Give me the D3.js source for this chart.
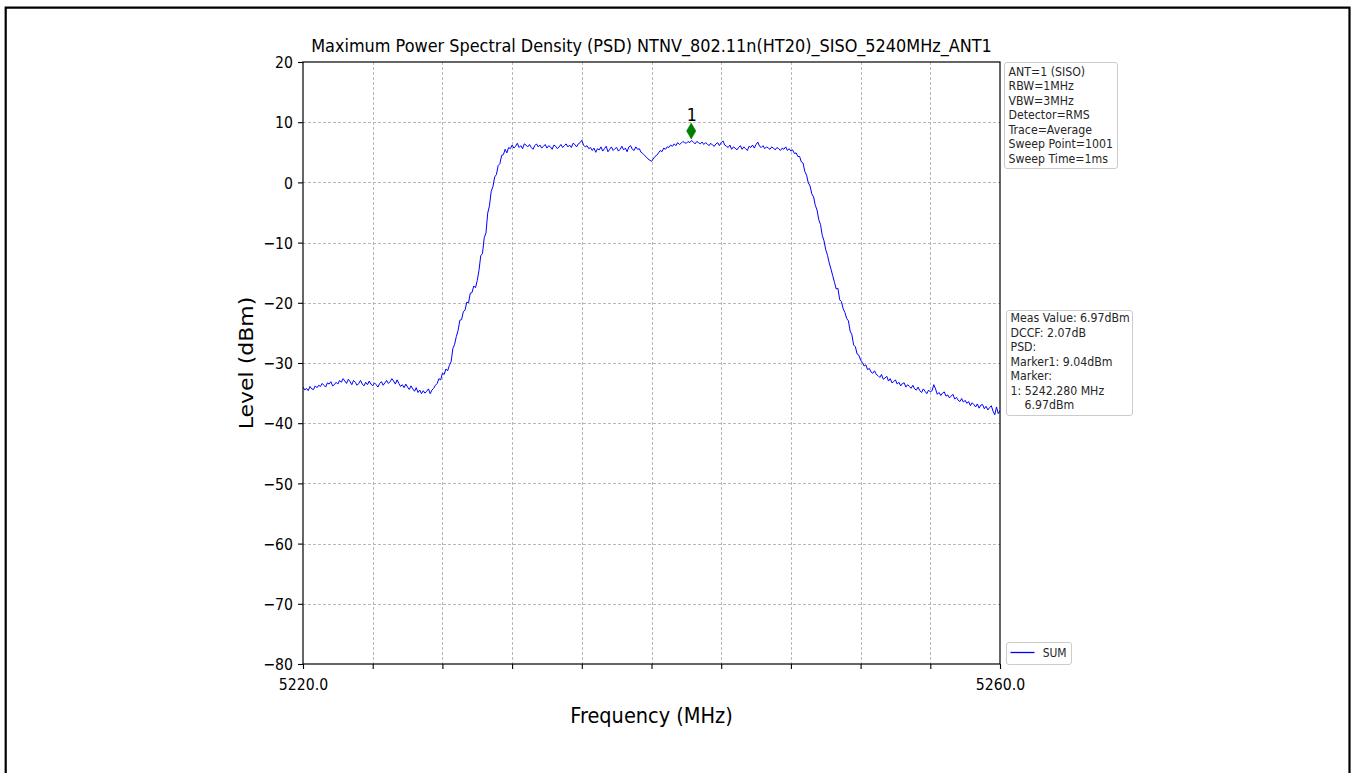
<!DOCTYPE html>
<html>
<head>
<meta charset="utf-8">
<script src="https://cdn.jsdelivr.net/npm/d3@7"></script>
<style>
  html, body { margin: 0; padding: 0; background: #fff; }
  svg { display: block; font-family: "DejaVu Sans", sans-serif; }
  text { white-space: pre; }
</style>
</head>
<body>
<svg id="chart" width="1352" height="773"></svg>
<script>
// Sweep settings (MHz) and measured trace level (dBm), one value per 0.1 MHz
const sweepStart = 5220;
const sweepStop = 5260;
const levelDbm = [
  -34.0,-34.5,-34.2,-34.6,-33.9,-34.3,-34.4,-33.8,-34.1,-33.7,
  -33.9,-33.4,-33.7,-34.0,-33.3,-33.5,-33.1,-33.8,-33.6,-33.2,
  -33.5,-32.9,-33.2,-32.6,-33.0,-33.4,-32.7,-33.1,-33.6,-32.9,
  -33.2,-33.7,-33.4,-32.9,-33.5,-33.8,-33.2,-33.6,-33.0,-33.5,
  -33.8,-33.3,-33.6,-34.0,-33.4,-33.1,-33.7,-33.3,-32.9,-33.4,
  -33.1,-32.6,-33.0,-33.5,-32.8,-33.4,-33.9,-33.6,-34.1,-33.5,
  -34.0,-34.4,-33.8,-34.3,-34.7,-34.1,-34.9,-34.5,-35.1,-34.6,
  -35.0,-34.7,-34.3,-35.1,-34.5,-34.2,-33.7,-33.4,-32.6,-32.8,
  -31.7,-31.9,-31.0,-31.3,-30.4,-29.8,-27.6,-26.9,-25.6,-24.6,
  -22.9,-22.8,-21.5,-21.2,-19.9,-20.0,-18.4,-18.3,-17.2,-17.5,
  -16.3,-14.6,-12.2,-11.8,-9.2,-8.4,-5.1,-3.9,-1.5,-0.7,
  0.9,1.3,2.8,3.1,4.5,4.6,5.5,4.9,5.8,5.6,
  6.2,5.7,6.0,6.5,5.8,6.1,5.6,6.4,6.2,5.9,
  6.3,5.8,5.5,6.1,6.4,5.9,6.2,5.7,6.0,6.3,
  5.7,6.1,5.9,5.5,6.2,6.0,5.6,5.9,6.3,5.8,
  6.1,6.4,5.9,6.2,5.8,6.5,6.3,5.9,6.4,6.6,
  7.0,6.2,5.9,6.1,5.6,5.8,5.3,5.7,5.0,5.6,
  5.4,5.9,5.2,5.6,6.0,5.1,5.5,5.9,5.3,5.6,
  5.8,5.2,5.5,6.0,5.4,5.7,5.1,5.9,6.1,5.5,
  5.3,5.9,5.5,5.6,5.0,4.8,4.5,4.2,3.9,3.7,
  3.5,3.9,4.3,4.5,4.9,5.3,5.1,5.7,5.5,5.9,
  5.8,6.2,6.0,6.4,6.1,6.6,6.3,6.5,6.8,6.6,
  6.5,6.8,6.6,6.97,6.7,6.4,6.8,6.6,6.4,6.7,
  6.3,6.6,6.4,6.1,6.5,6.2,6.0,6.4,6.6,6.1,
  6.6,6.9,6.2,6.0,5.8,6.2,5.5,5.9,5.7,5.4,
  5.8,6.1,5.5,5.9,5.6,5.3,6.0,5.8,6.2,5.7,
  6.3,6.7,6.0,5.8,6.1,5.6,5.9,5.7,5.5,5.9,
  5.7,5.4,5.8,5.6,5.3,5.7,5.5,5.9,5.3,5.6,
  5.2,5.4,4.8,4.9,4.3,4.3,3.4,3.2,1.8,1.2,
  -0.1,-0.6,-1.9,-2.4,-3.8,-4.6,-6.2,-7.0,-8.8,-9.7,
  -11.2,-12.1,-13.4,-14.4,-15.5,-16.6,-17.7,-17.6,-19.5,-19.8,
  -21.0,-21.6,-22.6,-23.0,-24.7,-25.3,-27.0,-27.3,-28.5,-28.7,
  -29.5,-29.9,-30.5,-30.3,-31.1,-30.9,-31.5,-31.7,-31.3,-31.9,
  -32.1,-32.4,-31.9,-32.7,-32.5,-32.2,-33.0,-32.6,-33.3,-33.1,
  -32.8,-33.5,-33.2,-33.8,-33.4,-33.3,-34.0,-33.6,-33.9,-34.2,
  -33.7,-34.3,-34.5,-34.0,-34.6,-34.9,-34.3,-34.7,-35.1,-34.5,
  -34.8,-34.6,-33.6,-34.3,-35.2,-34.9,-35.4,-35.0,-34.8,-35.5,
  -35.3,-35.8,-35.5,-35.2,-36.0,-35.7,-36.2,-36.4,-35.9,-36.5,
  -36.2,-36.7,-36.4,-37.1,-36.6,-36.9,-37.3,-36.8,-37.5,-37.0,
  -36.9,-37.6,-37.2,-37.8,-37.4,-37.1,-38.0,-38.6,-37.3,-38.4,
  -37.9
];

// Axis ticks
const xTicks = [5220, 5224, 5228, 5232, 5236, 5240, 5244, 5248, 5252, 5256, 5260];
const xTickLabels = ["5220.0", "", "", "", "", "", "", "", "", "", "5260.0"];
const yTicks = [20, 10, 0, -10, -20, -30, -40, -50, -60, -70, -80];
const yTickLabels = ["20", "10", "0", "\u221210", "\u221220", "\u221230", "\u221240", "\u221250", "\u221260", "\u221270", "\u221280"];

// Marker 1
const markerFreq = 5242.28;
const markerLevel = 6.97;
const markerName = "1";

// Annotation boxes
const setupLines = ["ANT=1 (SISO)", "RBW=1MHz", "VBW=3MHz", "Detector=RMS", "Trace=Average", "Sweep Point=1001", "Sweep Time=1ms"];
const resultLines = ["Meas Value: 6.97dBm", "DCCF: 2.07dB", "PSD:", "Marker1: 9.04dBm", "Marker:", "1: 5242.280 MHz", "    6.97dBm"];
const seriesName = "SUM";

const titleText = "Maximum Power Spectral Density (PSD) NTNV_802.11n(HT20)_SISO_5240MHz_ANT1";
const xTitle = "Frequency (MHz)";
const yTitle = "Level (dBm)";

// Layout
const plot = { left: 303, right: 1000, top: 62, bottom: 664 };
const SX = 0.88; // horizontal squeeze of the lettering

const svg = d3.select("#chart");

// outer frame
svg.append("path")
  .attr("d", "M5.7,790V7.7H1349.5V790")
  .attr("fill", "none").attr("stroke", "#000").attr("stroke-width", 2.2);

const x = d3.scaleLinear().domain([sweepStart, sweepStop]).range([plot.left, plot.right]);
const y = d3.scaleLinear().domain([-80, 20]).range([plot.bottom, plot.top]);

const freqMHz = levelDbm.map((_, i) => sweepStart + i * (sweepStop - sweepStart) / (levelDbm.length - 1));

// grid
const grid = svg.append("g").attr("stroke", "#b0b0b0").attr("stroke-width", 0.9).attr("stroke-dasharray", "3,2");
grid.selectAll("line.v").data(xTicks.slice(1, -1)).join("line")
  .attr("x1", d => Math.round(x(d)) + 0.5).attr("x2", d => Math.round(x(d)) + 0.5)
  .attr("y1", plot.top).attr("y2", plot.bottom);
grid.selectAll("line.h").data(yTicks.slice(1, -1)).join("line")
  .attr("y1", d => Math.round(y(d)) + 0.5).attr("y2", d => Math.round(y(d)) + 0.5)
  .attr("x1", plot.left).attr("x2", plot.right);

// trace
svg.append("clipPath").attr("id", "plotClip").append("rect")
  .attr("x", plot.left).attr("y", plot.top)
  .attr("width", plot.right - plot.left).attr("height", plot.bottom - plot.top);

const line = d3.line().x((d, i) => x(freqMHz[i])).y(d => y(d));
svg.append("path")
  .datum(levelDbm)
  .attr("clip-path", "url(#plotClip)")
  .attr("d", line)
  .attr("fill", "none").attr("stroke", "#0000ff").attr("stroke-width", 1)
  .attr("stroke-linejoin", "round");

// axes
const xAxis = d3.axisBottom(x).tickValues(xTicks).tickSize(5).tickPadding(3)
  .tickFormat((d, i) => xTickLabels[i]);
const gx = svg.append("g").attr("transform", `translate(0,${plot.bottom})`).call(xAxis);
const yAxis = d3.axisLeft(y).tickValues(yTicks).tickSize(5).tickPadding(5)
  .tickFormat((d, i) => yTickLabels[i]);
const gy = svg.append("g").attr("transform", `translate(${plot.left},0)`).call(yAxis);

[gx, gy].forEach(g => {
  g.select(".domain").remove();
  g.selectAll(".tick line").attr("stroke", "#000").attr("stroke-width", 1.1);
  g.selectAll(".tick text").attr("fill", "#000").attr("font-size", 16)
    .attr("font-family", "DejaVu Sans");
});
gx.selectAll(".tick text").attr("y", 0).attr("dy", 0)
  .attr("transform", `translate(0,25.5) scale(${SX},1)`);
gy.selectAll(".tick text").attr("x", 0).attr("dy", "0.36em")
  .attr("transform", `translate(-10,0) scale(${SX},1)`);

// spines
svg.append("rect")
  .attr("x", plot.left).attr("y", plot.top)
  .attr("width", plot.right - plot.left).attr("height", plot.bottom - plot.top)
  .attr("fill", "none").attr("stroke", "#000").attr("stroke-width", 1.2);

// squeezed text helper
function label(parent, str, tx, ty, size, anchor, extra) {
  return parent.append("text")
    .attr("transform", `translate(${tx},${ty}) scale(${SX},1)` + (extra || ""))
    .attr("text-anchor", anchor).attr("font-size", size).attr("fill", "#000")
    .text(str);
}

label(svg, titleText, (plot.left + plot.right) / 2, 51.7, 18.3, "middle");
label(svg, xTitle, (plot.left + plot.right) / 2, 723, 22, "middle");
label(svg, yTitle, 253, (plot.top + plot.bottom) / 2, 22, "middle", " rotate(-90)");

// marker 1: diamond sits just above the trace point
const mx = x(markerFreq), my = y(markerLevel) - 9.5;
svg.append("path")
  .attr("d", `M${mx},${my - 8}L${mx + 4.6},${my}L${mx},${my + 8}L${mx - 4.6},${my}Z`)
  .attr("fill", "#008000").attr("stroke", "#008000").attr("stroke-width", 0.6);
label(svg, markerName, mx + 0.5, my - 10, 18, "middle");

// annotation boxes
function infoBox(lines, bx, by, bw, bh, firstBase) {
  const g = svg.append("g");
  g.append("rect").attr("x", bx + 0.5).attr("y", by + 0.5).attr("width", bw).attr("height", bh)
    .attr("rx", 2.5).attr("fill", "#fff").attr("stroke", "#cccccc").attr("stroke-width", 1);
  lines.forEach((t, i) => {
    label(g, t, bx + 4.5, firstBase + i * 14.5, 12.5, "start").attr("fill", "#262626");
  });
}
infoBox(setupLines, 1004, 62, 113, 106, 75.7);
infoBox(resultLines, 1006, 310, 126, 105, 322.3);

// legend
const lg = svg.append("g");
lg.append("rect").attr("x", 1006.5).attr("y", 642.5).attr("width", 65).attr("height", 22)
  .attr("rx", 2.5).attr("fill", "#fff").attr("stroke", "#cccccc");
lg.append("line").attr("x1", 1010.5).attr("x2", 1034.5).attr("y1", 652.5).attr("y2", 652.5)
  .attr("stroke", "#0000ff").attr("stroke-width", 1.3);
label(lg, seriesName, 1042.7, 656.7, 12.2, "start").attr("fill", "#262626");
</script>
</body>
</html>
